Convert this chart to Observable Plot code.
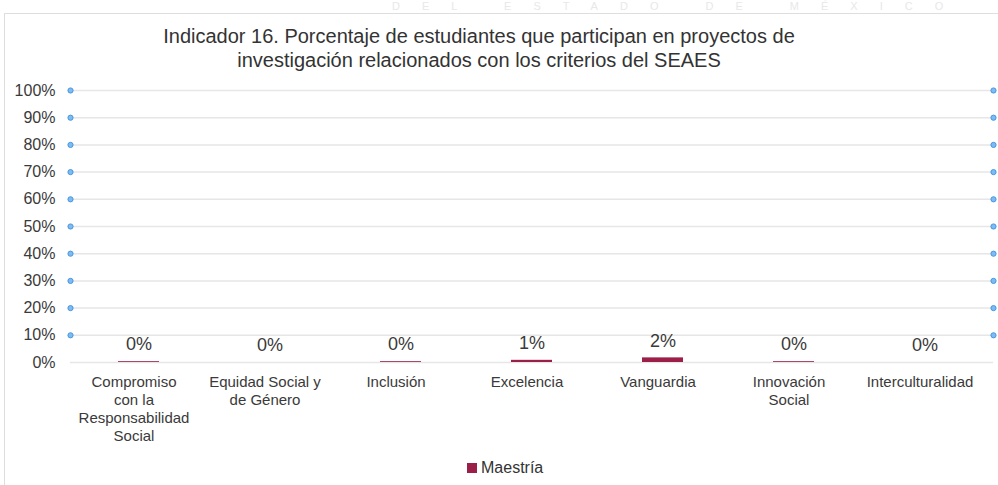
<!DOCTYPE html>
<html>
<head>
<meta charset="utf-8">
<script src="https://cdn.jsdelivr.net/npm/d3@7"></script>
<script src="https://cdn.jsdelivr.net/npm/@observablehq/plot@0.6"></script>
<style>
  html, body { margin: 0; padding: 0; background: #fff; width: 998px; height: 485px; overflow: hidden; }
  body { position: relative; font-family: Helvetica, "Liberation Sans", Arial, sans-serif; }
  #watermark { position: absolute; left: 392px; top: 0px; font-size: 11px; line-height: 12px; letter-spacing: 22px; color: #e8e8e8; white-space: nowrap; z-index: 0; }
  #frame { position: absolute; left: 4px; top: 13px; width: 1010px; height: 490px; border: 1px solid #dedede; background: #fff; z-index: 1; }
  #title { position: absolute; left: 0; top: 24px; width: 958px; text-align: center; font-size: 20px; line-height: 24px; color: #333; z-index: 2; }
  #chart { position: absolute; left: 0; top: 80px; z-index: 2; }
  #legend { position: absolute; left: 467px; top: 459px; font-size: 16px; line-height: 18px; color: #333; z-index: 2; display: flex; align-items: center; }
  #legend .sw { width: 10px; height: 10px; background: #9c1f4a; margin-right: 4px; }
</style>
</head>
<body>
<div id="watermark">DEL ESTADO DE MÉXICO</div>
<div id="frame"></div>
<div id="title">Indicador 16. Porcentaje de estudiantes que participan en proyectos de<br>investigación relacionados con los criterios del SEAES</div>
<div id="chart"></div>
<div id="legend"><span class="sw"></span><span>Maestría</span></div>
<script>
const categories = ["Compromiso con la Responsabilidad Social", "Equidad Social y de Género", "Inclusión", "Excelencia", "Vanguardia", "Innovación Social", "Interculturalidad"];
const categoryLabels = ["Compromiso\ncon la\nResponsabilidad\nSocial", "Equidad Social y\nde Género", "Inclusión", "Excelencia", "Vanguardia", "Innovación\nSocial", "Interculturalidad"];
const maestria = [0.3, 0, 0.3, 0.8, 1.7, 0.3, 0];
const valueLabels = ["0%", "0%", "0%", "1%", "2%", "0%", "0%"];
const yTicks = [0, 10, 20, 30, 40, 50, 60, 70, 80, 90, 100];
const seriesName = "Maestría";

const data = categories.map((c, i) => ({category: c, value: maestria[i], label: valueLabels[i]}));
const labelOf = new Map(categories.map((c, i) => [c, categoryLabels[i]]));

const chart = Plot.plot({
  width: 998,
  height: 375,
  marginTop: 10,
  marginBottom: 93,
  marginLeft: 70,
  marginRight: 5,
  style: {fontFamily: "Helvetica, 'Liberation Sans', Arial, sans-serif", background: "transparent"},
  x: {domain: categories, padding: 0},
  y: {domain: [0, 100]},
  marks: [
    Plot.ruleY(yTicks, {y: d => d, stroke: "#e6e6e6", strokeWidth: 1.5}),
    Plot.barY(data, {x: "category", y: "value", fill: "#9c1f4a", insetLeft: 45, insetRight: 45}),
    Plot.text(data, {x: "category", y: "value", text: "label", dy: -17, fontSize: 18, fill: "#3a3a3a"}),
    Plot.dot(yTicks.filter(d => d > 0), {y: d => d, frameAnchor: "left", r: 2.6, fill: "#7cbcf2", stroke: "#4a96e0", strokeWidth: 1}),
    Plot.dot(yTicks.filter(d => d > 0), {y: d => d, frameAnchor: "right", r: 2.6, fill: "#7cbcf2", stroke: "#4a96e0", strokeWidth: 1}),
    Plot.axisY({ticks: yTicks, tickFormat: d => d + "%", tickSize: 0, tickPadding: 15, fontSize: 16, fill: "#3a3a3a", label: null}),
    Plot.axisX({tickFormat: d => labelOf.get(d), tickSize: 0, tickPadding: 12, dx: -5, fontSize: 15, fill: "#3a3a3a", lineHeight: 1.2, label: null})
  ]
});
document.getElementById("chart").appendChild(chart);
</script>
</body>
</html>
